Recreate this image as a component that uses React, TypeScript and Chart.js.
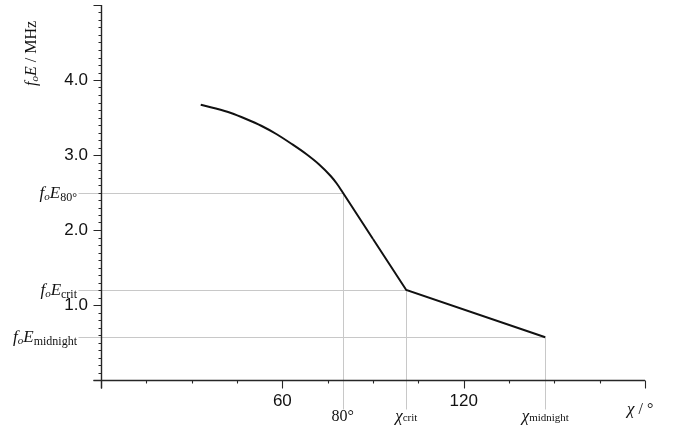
import React, { useEffect, useRef } from "react";
import { Chart, registerables } from "chart.js";
Chart.register(...registerables);

// solar zenith angle (deg) and foE (MHz)
const chiCurve = [33, 38, 43, 48, 53, 58, 63, 68, 72, 76, 78, 80, 90];
const foECurve = [3.67, 3.62, 3.56, 3.48, 3.39, 3.28, 3.15, 3.01, 2.88, 2.72, 2.62, 2.5, 1.88];
const chiLinear = [90, 101, 147];
const foELinear = [1.88, 1.2, 0.57];

// reference markers
const refChi = [80, 101, 147];
const refFoE = [2.5, 1.2, 0.57];
const refYSub = ["80°", "crit", "midnight"];
const refXMain = ["80°", "χ", "χ"];
const refXSub = ["", "crit", "midnight"];

const xLabeled = [60, 120];
const yLabeled = [1, 2, 3, 4];

const SERIF = "'Liberation Serif', 'Times New Roman', serif";

type Seg = { t: string; font: string; dy: number };

function segWidth(ctx: CanvasRenderingContext2D, segs: Seg[]) {
  let w = 0;
  for (const s of segs) {
    ctx.font = s.font;
    w += ctx.measureText(s.t).width;
  }
  return w;
}
function drawSegs(ctx: CanvasRenderingContext2D, segs: Seg[], x: number, y: number) {
  let cx = x;
  ctx.textAlign = "left";
  ctx.textBaseline = "alphabetic";
  for (const s of segs) {
    ctx.font = s.font;
    ctx.fillText(s.t, cx, y + s.dy);
    cx += ctx.measureText(s.t).width;
  }
}

const decor = {
  id: "decor",
  beforeDatasetsDraw(chart: any) {
    const ctx: CanvasRenderingContext2D = chart.ctx;
    const xs = chart.scales.x;
    const ys = chart.scales.y;
    const x0 = Math.round(xs.getPixelForValue(0)) + 0.5;
    const y0 = Math.round(ys.getPixelForValue(0)) + 0.5;
    ctx.save();
    ctx.strokeStyle = "#c8c8c8";
    ctx.lineWidth = 1;
    refChi.forEach((c, i) => {
      const px = Math.round(xs.getPixelForValue(c)) + 0.5;
      const py = Math.round(ys.getPixelForValue(refFoE[i])) + 0.5;
      ctx.beginPath();
      ctx.moveTo(x0 - 23, py);
      ctx.lineTo(px, py);
      ctx.moveTo(px, py);
      ctx.lineTo(px, y0 + 29);
      ctx.stroke();
    });
    // axes
    ctx.strokeStyle = "#262626";
    ctx.lineWidth = 1.4;
    ctx.beginPath();
    ctx.moveTo(x0 - 8, y0);
    ctx.lineTo(xs.right, y0);
    ctx.moveTo(x0, ys.top);
    ctx.lineTo(x0, y0 + 8);
    ctx.stroke();
    ctx.lineWidth = 1.1;
    ctx.beginPath();
    for (const t of xs.ticks) {
      const px = Math.round(xs.getPixelForValue(t.value)) + 0.5;
      const major = Math.abs(t.value % 60) < 1e-6;
      ctx.moveTo(px, y0);
      ctx.lineTo(px, y0 + (major ? 8 : 3));
    }
    for (const t of ys.ticks) {
      const py = Math.round(ys.getPixelForValue(t.value)) + 0.5;
      const major = Math.abs(t.value - Math.round(t.value)) < 1e-6;
      ctx.moveTo(x0, py);
      ctx.lineTo(x0 - (major ? 8 : 3), py);
    }
    ctx.stroke();
    ctx.restore();
  },
  afterDraw(chart: any) {
    const ctx: CanvasRenderingContext2D = chart.ctx;
    const xs = chart.scales.x;
    const ys = chart.scales.y;
    const x0 = xs.getPixelForValue(0);
    const y0 = ys.getPixelForValue(0);
    ctx.save();
    ctx.fillStyle = "#111";
    const big = `italic 17px ${SERIF}`;
    const sm = `italic 11px ${SERIF}`;
    const smUp = `12px ${SERIF}`;
    refChi.forEach((c, i) => {
      const py = ys.getPixelForValue(refFoE[i]);
      const segs: Seg[] = [
        { t: "f", font: big, dy: 0 },
        { t: "o", font: sm, dy: 2 },
        { t: "E", font: big, dy: 0 },
        { t: refYSub[i], font: smUp, dy: 3 },
      ];
      const w = segWidth(ctx, segs);
      drawSegs(ctx, segs, x0 - 24 - w, py + 5);

      const px = xs.getPixelForValue(c);
      const bsegs: Seg[] = refXSub[i]
        ? [
            { t: refXMain[i], font: `italic 17px ${SERIF}`, dy: 0 },
            { t: refXSub[i], font: `11px ${SERIF}`, dy: 0 },
          ]
        : [{ t: refXMain[i], font: `16px ${SERIF}`, dy: 0 }];
      const bw = segWidth(ctx, bsegs);
      drawSegs(ctx, bsegs, px - bw / 2, y0 + 41);
    });
    // x axis title
    drawSegs(
      ctx,
      [
        { t: "χ", font: `italic 17px ${SERIF}`, dy: 0 },
        { t: " / °", font: `16px ${SERIF}`, dy: 0 },
      ],
      627,
      y0 + 34
    );
    // y axis title (rotated)
    ctx.save();
    ctx.translate(36, 86);
    ctx.rotate(-Math.PI / 2);
    drawSegs(
      ctx,
      [
        { t: "f", font: `italic 16px ${SERIF}`, dy: 0 },
        { t: "o", font: sm, dy: 2 },
        { t: "E", font: `italic 16px ${SERIF}`, dy: 0 },
        { t: " / MHz", font: `16px ${SERIF}`, dy: 0 },
      ],
      0,
      0
    );
    ctx.restore();
    ctx.restore();
  },
};

export default function App() {
  const ref = useRef<HTMLCanvasElement | null>(null);
  useEffect(() => {
    if (!ref.current) return;
    const chart = new Chart(ref.current, {
      type: "line",
      data: {
        datasets: [
          {
            data: chiCurve.map((x, i) => ({ x, y: foECurve[i] })),
            borderColor: "#111",
            borderWidth: 2,
            pointRadius: 0,
            cubicInterpolationMode: "monotone",
            fill: false,
          },
          {
            data: chiLinear.map((x, i) => ({ x, y: foELinear[i] })),
            borderColor: "#111",
            borderWidth: 2,
            pointRadius: 0,
            tension: 0,
            fill: false,
          },
        ],
      },
      options: {
        animation: false,
        responsive: false,
        devicePixelRatio: 1,
        plugins: { legend: { display: false }, tooltip: { enabled: false } },
        layout: { padding: { top: 5, right: 30, left: 0, bottom: 0 } },
        scales: {
          x: {
            type: "linear",
            min: 0,
            max: 180,
            grid: { display: false, drawTicks: false },
            border: { display: false },
            afterFit: (s: any) => {
              s.height = 47;
              s.paddingLeft = 0;
              s.paddingRight = 0;
            },
            ticks: {
              stepSize: 15,
              autoSkip: false,
              maxRotation: 0,
              padding: 11,
              color: "#111",
              font: { family: "'Liberation Sans', Arial, sans-serif", size: 17 },
              callback: (v: any) => (xLabeled.includes(Number(v)) ? String(v) : ""),
            },
          },
          y: {
            type: "linear",
            min: 0,
            max: 5,
            grid: { display: false, drawTicks: false },
            border: { display: false },
            afterFit: (s: any) => {
              s.width = 101;
              s.paddingTop = 0;
              s.paddingBottom = 0;
            },
            ticks: {
              stepSize: 0.1,
              autoSkip: false,
              padding: 13,
              color: "#111",
              font: { family: "'Liberation Sans', Arial, sans-serif", size: 17 },
              callback: (v: any) => {
                const n = Number(v);
                const r = Math.round(n);
                return Math.abs(n - r) < 1e-6 && yLabeled.includes(r) ? r.toFixed(1) : "";
              },
            },
          },
        },
      },
      plugins: [decor],
    } as any);
    return () => chart.destroy();
  }, []);
  return (
    <div style={{ position: "fixed", left: 0, top: 0, width: 675, height: 427, background: "#fff" }}>
      <canvas ref={ref} width={675} height={427} style={{ display: "block" }} />
    </div>
  );
}
